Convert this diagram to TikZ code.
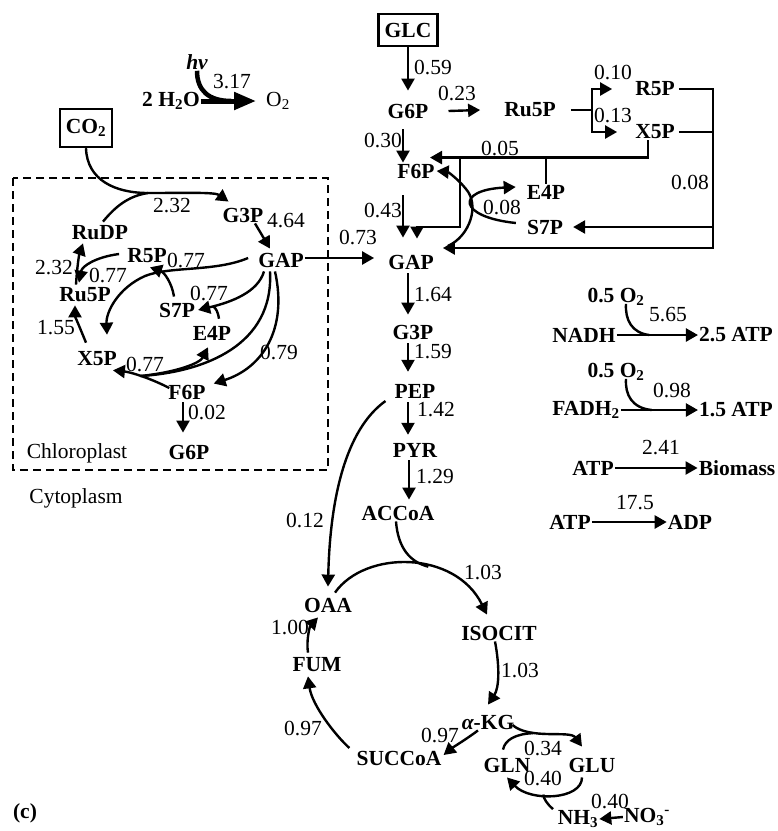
\documentclass[tikz,border=0pt]{standalone}
\usepackage{fontspec}
\setmainfont{Liberation Serif}
\usetikzlibrary{arrows.meta}
\begin{document}
\begin{tikzpicture}[x=1pt,y=-1pt,every node/.style={font=\fontsize{21.5}{23}\selectfont,inner sep=1pt},
 met/.style={font=\fontsize{21.5}{23}\selectfont\bfseries},
 feed/.style={draw,line width=2.4pt,inner sep=4pt,font=\fontsize{21.5}{23}\selectfont\bfseries},
 flux/.style={line width=2.4pt,-{Triangle[length=12pt,width=13pt]}},
 ln/.style={line width=2.4pt},
 bigflux/.style={line width=5pt,-{Triangle[length=22pt,width=17pt]}}]
\useasboundingbox (0,0) rectangle (778,831);
\node[met] (hv) at (197,62) {\itshape hν};
\node[met] (h2o) at (171,101) {2 H\textsubscript{2}O};
\node (o2t) at (278,101) {O\textsubscript{2}};
\node (n317) at (232,82) {3.17};
\draw[bigflux] (h2o.east) -- ([xshift=-9pt]o2t.west) coordinate[pos=0.55] (jhv);
\draw[line width=4.5pt] (hv.south) .. controls (197,90) and (208,101) .. (jhv);
\node[feed,minimum width=52pt,minimum height=38pt] (co2) at (86,128) {CO\textsubscript{2}};
\node[feed,minimum width=59pt,minimum height=32pt] (glc) at (408,30) {GLC};
\draw[line width=2pt,dash pattern=on 8pt off 5pt] (13,178) rectangle (328,470);
\node[met] (g3pA) at (243,215) {G3P};
\node (n232a) at (172,206) {2.32};
\node (n464) at (286,221) {4.64};
\node[met] (gapA) at (281,260) {GAP};
\node[met] (rudp) at (100,233) {RuDP};
\node[met] (r5pA) at (147,256) {R5P};
\node (n077a) at (186,260) {0.77};
\node (n232b) at (54,268) {2.32};
\node (n077b) at (108,275) {0.77};
\node[met] (ru5pA) at (85,295) {Ru5P};
\node[met] (s7pA) at (177,310) {S7P};
\node (n077c) at (209,293) {0.77};
\node[met] (e4pA) at (212,333) {E4P};
\node (n155) at (56,328) {1.55};
\node[met] (x5pA) at (97,359) {X5P};
\node (n077d) at (145,364) {0.77};
\node (n079) at (279,352) {0.79};
\node[met] (f6pA) at (187,392) {F6P};
\node (n002) at (207,412) {0.02};
\node[met] (g6pA) at (189,452) {G6P};
\node (chl) at (77,453) {Chloroplast};
\node (cyt) at (76,498) {Cytoplasm};
\coordinate (jco) at (148,193);
\draw[flux] (co2.south) .. controls (87,180) and (115,193) .. (jco) .. controls (185,193) and (215,192) .. ([shift={(7pt,5pt)}]g3pA.north west);
\draw[ln] ([shift={(3pt,3pt)}]rudp.north) .. controls (115,207) and (128,196) .. (jco);
\draw[flux] ([xshift=12pt]g3pA.south) -- ([shift={(-11pt,3pt)}]gapA.north);
\draw[flux] ([shift={(-9pt,2pt)}]gapA.west) .. controls (215,272) and (170,266) .. (145,276) .. controls (118,288) and (106,312) .. ([shift={(10pt,16pt)}]x5pA.north);
\draw[flux] ([shift={(-3pt,5pt)}]s7pA.north) .. controls (172,283) and (164,272) .. ([shift={(3pt,-3pt)}]r5pA.south);
\draw[flux] ([shift={(-17pt,-3pt)}]gapA.south) .. controls (258,292) and (232,302) .. ([xshift=2pt]s7pA.east) coordinate[pos=0.85] (js7);
\draw[ln] ([shift={(7pt,6pt)}]e4pA.north) .. controls (218,312) and (216,308) .. (js7);
\draw[flux] ([shift={(-6pt,-3pt)}]gapA.south) .. controls (288,330) and (262,368) .. ([xshift=7pt]f6pA.north east);
\draw[flux] ([shift={(2pt,4pt)}]f6pA.west) .. controls (150,378) and (130,372) .. ([shift={(-5pt,-3pt)}]x5pA.south east) coordinate[pos=0.5] (jx5);
\draw[ln] ([shift={(-11pt,-3pt)}]gapA.south) .. controls (274,345) and (205,372) .. (jx5);
\draw[flux] (jx5) .. controls (178,372) and (200,363) .. ([shift={(-4pt,-6pt)}]e4pA.south);
\draw[flux] ([shift={(-4pt,-2pt)}]f6pA.south) -- ([shift={(-6pt,11pt)}]g6pA.north);
\draw[flux] ([shift={(-7pt,2pt)}]r5pA.west) .. controls (96,257) and (82,266) .. ([shift={(-6pt,4pt)}]ru5pA.north);
\draw[flux] ([shift={(-9pt,2pt)}]ru5pA.north) .. controls (77,268) and (79,255) .. ([shift={(-17pt,-2pt)}]rudp.south);
\draw[flux] ([shift={(-11pt,8pt)}]x5pA.north) .. controls (80,328) and (75,316) .. ([shift={(-10pt,-2pt)}]ru5pA.south);
\node[met] (g6pB) at (408,111) {G6P};
\node (n059) at (433,67) {0.59};
\node (n023) at (457,93) {0.23};
\node[met] (ru5pB) at (530,110) {Ru5P};
\node[met] (r5pB) at (655,89) {R5P};
\node[met] (x5pB) at (655,132) {X5P};
\node (n010) at (613,72) {0.10};
\node (n013) at (613,115) {0.13};
\node (n008a) at (690,182) {0.08};
\node[met] (f6pB) at (416,171) {F6P};
\node (n030) at (383,140) {0.30};
\node (n005) at (500,148) {0.05};
\node[met] (e4pB) at (546,192) {E4P};
\node[met] (s7pB) at (545,227) {S7P};
\node (n008b) at (502,207) {0.08};
\node (n043) at (383,210) {0.43};
\node[met] (gapB) at (411,262) {GAP};
\node (n073) at (358,237) {0.73};
\draw[flux] ([yshift=2pt]gapA.east) -- ([shift={(-13pt,4pt)}]gapB.west);
\draw[flux] (glc.south) -- ([yshift=12pt]g6pB.north);
\draw[flux] ([xshift=19pt]g6pB.east) -- ([xshift=-23pt]ru5pB.west);
\coordinate (jru) at (592,110);
\draw[ln] ([xshift=14pt]ru5pB.east) -- (jru);
\draw[flux] (jru) |- ([xshift=-22pt]r5pB.west);
\draw[flux] (jru) |- ([xshift=-17pt]x5pB.west);
\coordinate (rb) at (713,248);
\draw[flux] ([xshift=3pt]r5pB.east) -| (rb) -- ([shift={(8pt,14pt)}]gapB.east);
\draw[ln] ([xshift=3pt]x5pB.east) -- (x5pB.east -| rb);
\draw[flux] (s7pB -| rb) -- ([xshift=9pt]s7pB.east);
\coordinate (j05) at (648,158);
\coordinate (j46) at (460,158);
\draw[flux] ([xshift=-7pt]x5pB.south) |- ([shift={(14pt,5pt)}]f6pB.north);
\draw[ln] (e4pB.north) -- (e4pB.north |- j05);
\draw[flux] (j46) -- (j46 |- s7pB) -| ([shift={(6pt,15pt)}]gapB.north);
\draw[flux] ([shift={(-5pt,-10pt)}]g6pB.south) -- ([xshift=-13pt]f6pB.north);
\draw[flux] ([shift={(-13pt,-16pt)}]f6pB.south) -- ([shift={(-8pt,16pt)}]gapB.north);
\draw[flux] ([shift={(13pt,16pt)}]gapB.east) .. controls (470,236) and (480,205) .. (466,189) .. controls (458,179) and (448,172) .. ([xshift=1pt]f6pB.east);
\draw[flux] ([shift={(-10pt,4pt)}]s7pB.west) .. controls (458,217) and (455,190) .. ([shift={(-10pt,5pt)}]e4pB.west);
\node[met] (g3pB) at (413,332) {G3P};
\node (n164) at (433,295) {1.64};
\node[met] (pep) at (415,391) {PEP};
\node (n159) at (433,352) {1.59};
\node[met] (pyr) at (415,450) {PYR};
\node (n142) at (436,410) {1.42};
\node[met] (accoa) at (398,513) {ACCoA};
\node (n129) at (435,477) {1.29};
\draw[flux] ([shift={(-3pt,-3pt)}]gapB.south) -- ([shift={(-5pt,9pt)}]g3pB.north);
\draw[flux] ([shift={(-5pt,-3pt)}]g3pB.south) -- ([shift={(-7pt,11pt)}]pep.north);
\draw[flux] ([shift={(-7pt,-3pt)}]pep.south) -- ([shift={(-7pt,7pt)}]pyr.north);
\draw[flux] ([shift={(-6pt,-2pt)}]pyr.south) -- ([shift={(11pt,5pt)}]accoa.north);
\node (n012) at (305,520) {0.12};
\node[met] (oaa) at (328,605) {OAA};
\node (n103a) at (483,572) {1.03};
\node[met] (isocit) at (499,633) {ISOCIT};
\node (n103b) at (520,670) {1.03};
\node[met] (akg) at (488,722) {{\itshape α}-KG};
\node (n097a) at (440,735) {0.97};
\node[met] (succoa) at (399,758) {SUCCoA};
\node (n097b) at (303,728) {0.97};
\node[met] (fum) at (317,665) {FUM};
\node (n100) at (290,627) {1.00};
\node[met] (gln) at (507,765) {GLN};
\node[met] (glu) at (592,765) {GLU};
\node (n034) at (543,748) {0.34};
\node (n040a) at (543,778) {0.40};
\node[met] (nh3) at (578,819) {NH\textsubscript{3}};
\node[met] (no3) at (647,817) {NO\textsubscript{3}\textsuperscript{-}};
\node (n040b) at (610,801) {0.40};
\draw[flux] ([shift={(-8pt,-10pt)}]pep.west) .. controls (345,430) and (330,500) .. ([yshift=10pt]oaa.north);
\draw[flux] ([shift={(7pt,4pt)}]oaa.north) .. controls (365,550) and (455,550) .. ([shift={(-12pt,10pt)}]isocit.north) coordinate[pos=0.6] (jtca);
\draw[ln] ([xshift=-2pt]accoa.south) .. controls (398,548) and (410,562) .. (jtca);
\draw[flux] ([xshift=-4pt]isocit.south) .. controls (500,668) and (499,688) .. ([yshift=9pt]akg.north);
\draw[flux] ([shift={(-10pt,0pt)}]akg.south) .. controls (468,738) and (452,748) .. ([shift={(1pt,3pt)}]succoa.east);
\draw[flux] ([shift={(-6pt,10pt)}]succoa.west) .. controls (335,735) and (312,705) .. ([shift={(-9pt,-3pt)}]fum.south);
\draw[flux] ([shift={(-9pt,4pt)}]fum.north) .. controls (306,640) and (310,626) .. ([shift={(-10pt,-4pt)}]oaa.south);
\draw[flux] ([shift={(-3pt,-3pt)}]akg.east) .. controls (530,740) and (570,730) .. ([shift={(-10pt,10pt)}]glu.north) coordinate[pos=0.3] (jglu);
\draw[ln] ([shift={(-4pt,7pt)}]gln.north) .. controls (505,740) and (515,734) .. (jglu);
\draw[flux] ([shift={(-10pt,-4pt)}]glu.south) .. controls (582,800) and (530,802) .. ([yshift=-4pt]gln.south) coordinate[pos=0.6] (jgln);
\draw[ln] ([shift={(-25pt,0pt)}]nh3.north) .. controls (548,805) and (543,798) .. (jgln);
\draw[flux] (no3.west) -- (nh3.east);
\node[met] (o2a) at (616,297) {0.5 O\textsubscript{2}};
\node (n565) at (668,315) {5.65};
\node[met] (nadh) at (584,335) {NADH};
\node[met] (atp25) at (736,335) {2.5 ATP};
\draw[flux] (nadh.east) -- (atp25.west) coordinate[pos=0.4] (jnadh);
\draw[ln] ([shift={(10pt,3pt)}]o2a.south) .. controls (625,320) and (632,333) .. (jnadh);
\node[met] (o2b) at (616,372) {0.5 O\textsubscript{2}};
\node (n098) at (672,390) {0.98};
\node[met] (fadh) at (586,410) {FADH\textsubscript{2}};
\node[met] (atp15) at (736,410) {1.5 ATP};
\draw[flux] (fadh.east) -- (atp15.west) coordinate[pos=0.4] (jfadh);
\draw[ln] ([shift={(10pt,3pt)}]o2b.south) .. controls (625,395) and (632,408) .. (jfadh);
\node[met] (atpA) at (593,468) {ATP};
\node (n241) at (661,448) {2.41};
\node[met] (biomass) at (737,468) {Biomass};
\draw[flux] (atpA.east) -- (biomass.west);
\node[met] (atpB) at (570,522) {ATP};
\node (n175) at (635,503) {17.5};
\node[met] (adp) at (690,522) {ADP};
\draw[flux] (atpB.east) -- (adp.west);
\node[met] (lbl) at (25,813) {(c)};
\end{tikzpicture}
\end{document}
